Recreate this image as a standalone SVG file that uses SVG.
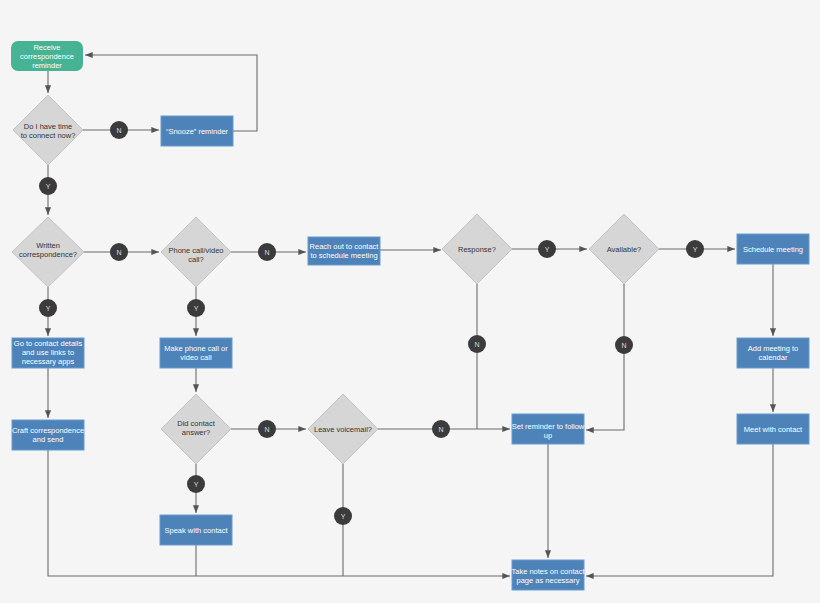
<svg xmlns="http://www.w3.org/2000/svg" width="820" height="603" viewBox="0 0 820 603">
<style>
text{font-family:"Liberation Sans",Arial,sans-serif;font-size:7.5px;text-anchor:middle}
.b{fill:#4d83b8;stroke:#6b9bd0;stroke-width:1}
.bt{fill:#fff}
.d{fill:#d6d6d6;stroke:#c4c4c4;stroke-width:1}
.dt{fill:#333}
.c{fill:#3b3b3b}
.ct{fill:#ddd;font-size:7px}
.l{fill:none;stroke:#6b6b6b;stroke-width:1.1}
</style>
<defs><marker id="a" viewBox="0 0 10 10" refX="10" refY="5" markerWidth="7" markerHeight="7" orient="auto"><path d="M0,1 L10,5 L0,9 z" fill="#555"/></marker></defs>
<rect width="820" height="603" fill="#f5f5f5"/>
<g id="connectors" class="l">
<path d="M48,71 V93" marker-end="url(#a)"/>
<path d="M83,130 H159" marker-end="url(#a)"/>
<path d="M233,131 H257 V55 H85" marker-end="url(#a)"/>
<path d="M48,165 V215" marker-end="url(#a)"/>
<path d="M84,252 H159" marker-end="url(#a)"/>
<path d="M231,252 H306" marker-end="url(#a)"/>
<path d="M380,250 H441" marker-end="url(#a)"/>
<path d="M512,249 H587" marker-end="url(#a)"/>
<path d="M659,249 H735" marker-end="url(#a)"/>
<path d="M773,264 V336" marker-end="url(#a)"/>
<path d="M773,368 V412" marker-end="url(#a)"/>
<path d="M773,444 V576 H586" marker-end="url(#a)"/>
<path d="M477,284 V429"/>
<path d="M624,284 V430 H586" marker-end="url(#a)"/>
<path d="M548,444 V558" marker-end="url(#a)"/>
<path d="M48,287 V336" marker-end="url(#a)"/>
<path d="M48,368 V418" marker-end="url(#a)"/>
<path d="M48,450 V576 H510" marker-end="url(#a)"/>
<path d="M196,287 V336" marker-end="url(#a)"/>
<path d="M196,368 V392" marker-end="url(#a)"/>
<path d="M231,429 H306" marker-end="url(#a)"/>
<path d="M378,429 H510" marker-end="url(#a)"/>
<path d="M196,464 V513" marker-end="url(#a)"/>
<path d="M196,545 V576"/>
<path d="M343,464 V576"/>
</g>
<g id="start"><rect x="11" y="41" width="72" height="30" rx="7" fill="#45b394"/><text class="bt" x="47" y="50">Receive</text><text class="bt" x="47" y="59">correspondence</text><text class="bt" x="47" y="68">reminder</text></g>
<g id="q1"><polygon class="d" points="48,95 83,130 48,165 13,130"/><text class="dt" x="48" y="129">Do I have time</text><text class="dt" x="48" y="138">to connect now?</text></g>
<g id="n1"><circle class="c" cx="119" cy="130" r="9"/><text class="ct" x="119" y="133">N</text></g>
<g id="snooze"><rect class="b" x="161" y="116" width="72" height="30"/><text class="bt" x="197" y="134">“Snooze” reminder</text></g>
<g id="y1"><circle class="c" cx="48" cy="186" r="9"/><text class="ct" x="48" y="189">Y</text></g>
<g id="q2"><polygon class="d" points="48,217 84,252 48,287 12,252"/><text class="dt" x="48" y="248">Written</text><text class="dt" x="48" y="257">correspondence?</text></g>
<g id="n2"><circle class="c" cx="119" cy="252" r="9"/><text class="ct" x="119" y="255">N</text></g>
<g id="q3"><polygon class="d" points="196,217 231,252 196,287 161,252"/><text class="dt" x="196" y="253">Phone call/video</text><text class="dt" x="196" y="262">call?</text></g>
<g id="n3"><circle class="c" cx="267" cy="252" r="9"/><text class="ct" x="267" y="255">N</text></g>
<g id="reach"><rect class="b" x="308" y="237" width="72" height="28"/><text class="bt" x="344" y="249">Reach out to contact</text><text class="bt" x="344" y="258">to schedule meeting</text></g>
<g id="q4"><polygon class="d" points="477,214 512,249 477,284 442,249"/><text class="dt" x="477" y="252">Response?</text></g>
<g id="y4"><circle class="c" cx="547" cy="249" r="9"/><text class="ct" x="547" y="252">Y</text></g>
<g id="q5"><polygon class="d" points="624,214 659,249 624,284 589,249"/><text class="dt" x="624" y="252">Available?</text></g>
<g id="y5"><circle class="c" cx="695" cy="249" r="9"/><text class="ct" x="695" y="252">Y</text></g>
<g id="sched"><rect class="b" x="737" y="234" width="72" height="30"/><text class="bt" x="773" y="252">Schedule meeting</text></g>
<g id="addcal"><rect class="b" x="737" y="338" width="72" height="30"/><text class="bt" x="773" y="351">Add meeting to</text><text class="bt" x="773" y="360">calendar</text></g>
<g id="meet"><rect class="b" x="737" y="414" width="72" height="30"/><text class="bt" x="773" y="432">Meet with contact</text></g>
<g id="n4"><circle class="c" cx="477" cy="344" r="9"/><text class="ct" x="477" y="347">N</text></g>
<g id="n5"><circle class="c" cx="624" cy="345" r="9"/><text class="ct" x="624" y="348">N</text></g>
<g id="setrem"><rect class="b" x="512" y="414" width="72" height="30"/><text class="bt" x="548" y="429">Set reminder to follow</text><text class="bt" x="548" y="438">up</text></g>
<g id="notes"><rect class="b" x="512" y="560" width="72" height="30"/><text class="bt" x="548" y="574">Take notes on contact</text><text class="bt" x="548" y="583">page as necessary</text></g>
<g id="y2"><circle class="c" cx="48" cy="308" r="9"/><text class="ct" x="48" y="311">Y</text></g>
<g id="goto"><rect class="b" x="12" y="338" width="72" height="30"/><text class="bt" x="48" y="346">Go to contact details</text><text class="bt" x="48" y="355">and use links to</text><text class="bt" x="48" y="364">necessary apps</text></g>
<g id="craft"><rect class="b" x="12" y="420" width="72" height="30"/><text class="bt" x="48" y="433">Craft correspondence</text><text class="bt" x="48" y="442">and send</text></g>
<g id="y3"><circle class="c" cx="196" cy="308" r="9"/><text class="ct" x="196" y="311">Y</text></g>
<g id="makecall"><rect class="b" x="160" y="338" width="72" height="30"/><text class="bt" x="196" y="351">Make phone call or</text><text class="bt" x="196" y="360">video call</text></g>
<g id="q6"><polygon class="d" points="196,394 231,429 196,464 161,429"/><text class="dt" x="196" y="426">Did contact</text><text class="dt" x="196" y="435">answer?</text></g>
<g id="n6"><circle class="c" cx="267" cy="429" r="9"/><text class="ct" x="267" y="432">N</text></g>
<g id="q7"><polygon class="d" points="343,394 378,429 343,464 308,429"/><text class="dt" x="343" y="432">Leave voicemail?</text></g>
<g id="n7"><circle class="c" cx="441" cy="429" r="9"/><text class="ct" x="441" y="432">N</text></g>
<g id="y6"><circle class="c" cx="196" cy="484" r="9"/><text class="ct" x="196" y="487">Y</text></g>
<g id="speak"><rect class="b" x="160" y="515" width="72" height="30"/><text class="bt" x="196" y="533">Speak with contact</text></g>
<g id="y7"><circle class="c" cx="343" cy="516" r="9"/><text class="ct" x="343" y="519">Y</text></g>
</svg>
